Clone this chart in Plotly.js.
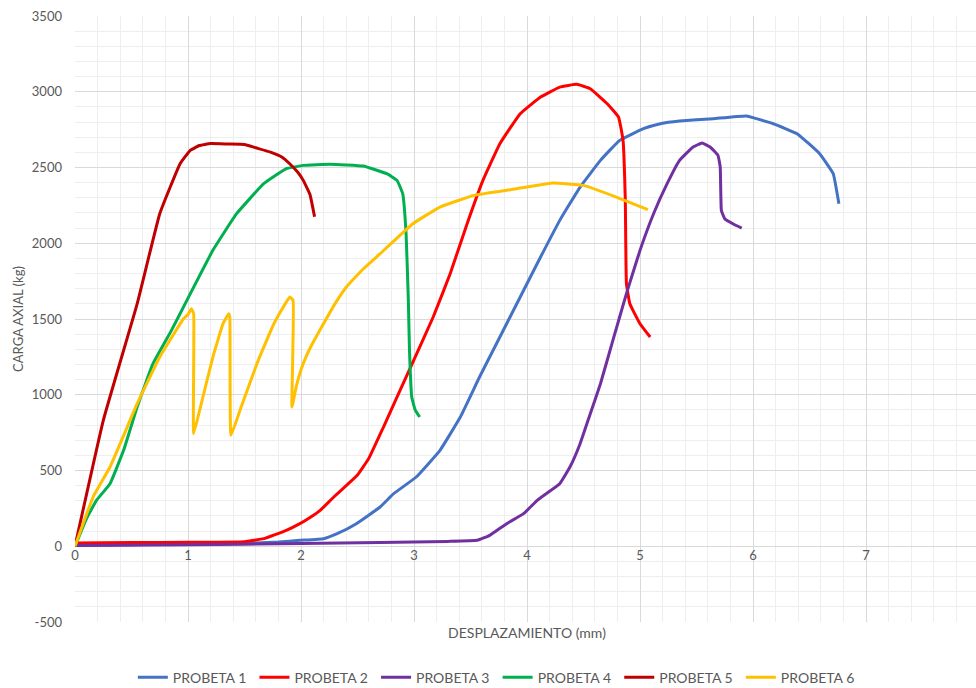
<!DOCTYPE html>
<html>
<head>
<meta charset="utf-8">
<script src="https://cdn.plot.ly/plotly-3.0.1.min.js"></script>
<style>
html,body{margin:0;padding:0;overflow:hidden;background:#fff;}
#chart{width:980px;height:688px;}
</style>
</head>
<body>
<div id="chart"></div>
<script>
// PROBETA 1
const p1x = [0, 0.5, 1.0, 1.5, 1.8, 1.99, 2.2, 2.32, 2.49, 2.7, 2.82, 3.02, 3.23, 3.41, 3.58, 3.76, 3.94, 4.12, 4.29, 4.47, 4.65, 4.82, 5.03, 5.18, 5.35, 5.65, 5.94, 6.18, 6.39, 6.59, 6.71, 6.76];
const p1y = [5, 10, 15, 20, 28, 39, 50, 83, 149, 259, 347, 457, 633, 853, 1117, 1381, 1645, 1909, 2151, 2371, 2547, 2679, 2756, 2789, 2807, 2822, 2840, 2789, 2723, 2591, 2459, 2261];
// PROBETA 2
const p2x = [0, 0.5, 1.0, 1.5, 1.67, 1.87, 1.99, 2.08, 2.17, 2.29, 2.4, 2.5, 2.6, 2.73, 2.97, 3.17, 3.32, 3.47, 3.61, 3.76, 3.94, 4.12, 4.29, 4.44, 4.56, 4.71, 4.81, 4.85, 4.87, 4.88, 4.91, 5.0, 5.09];
const p2y = [22, 24, 26, 30, 50, 105, 149, 190, 237, 325, 400, 470, 580, 787, 1183, 1513, 1799, 2129, 2415, 2657, 2855, 2965, 3031, 3049, 3020, 2921, 2833, 2679, 2283, 1733, 1601, 1469, 1381];
// PROBETA 3
const p3x = [0, 1.0, 2.0, 2.7, 3.3, 3.56, 3.67, 3.82, 3.97, 4.09, 4.17, 4.29, 4.38, 4.47, 4.56, 4.65, 4.76, 4.88, 5.0, 5.12, 5.24, 5.35, 5.47, 5.55, 5.62, 5.69, 5.71, 5.72, 5.75, 5.83, 5.9];
const p3y = [5, 10, 18, 25, 32, 39, 72, 149, 215, 303, 347, 413, 523, 677, 875, 1073, 1359, 1667, 1953, 2195, 2393, 2547, 2635, 2662, 2635, 2580, 2503, 2217, 2162, 2125, 2100];
// PROBETA 4
const p4x = [0, 0.1, 0.19, 0.31, 0.43, 0.55, 0.69, 0.85, 0.99, 1.22, 1.43, 1.67, 1.87, 2.02, 2.26, 2.55, 2.76, 2.85, 2.9, 2.93, 2.95, 2.96, 2.98, 3.01, 3.05];
const p4y = [0, 180, 303, 413, 633, 919, 1205, 1420, 1623, 1953, 2195, 2393, 2492, 2514, 2522, 2510, 2459, 2415, 2327, 2063, 1623, 1293, 985, 900, 853];
// PROBETA 5
const p5x = [0, 0.25, 0.55, 0.75, 0.93, 1.02, 1.1, 1.2, 1.35, 1.5, 1.6, 1.73, 1.83, 1.9, 1.97, 2.02, 2.08, 2.12];
const p5y = [0, 830, 1600, 2195, 2525, 2613, 2645, 2658, 2655, 2652, 2630, 2602, 2570, 2525, 2470, 2415, 2320, 2175];
// PROBETA 6
const p6x = [0, 0.16, 0.31, 0.55, 0.75, 0.96, 1.0, 1.03, 1.05, 1.05, 1.11, 1.22, 1.31, 1.36, 1.37, 1.38, 1.46, 1.61, 1.76, 1.9, 1.93, 1.92, 1.96, 2.0, 2.05, 2.11, 2.2, 2.3, 2.4, 2.55, 2.7, 2.99, 3.23, 3.53, 3.91, 4.23, 4.5, 4.79, 5.07];
const p6y = [0, 325, 523, 941, 1249, 1502, 1530, 1568, 1535, 743, 919, 1249, 1469, 1535, 1513, 732, 897, 1205, 1469, 1645, 1623, 919, 1060, 1165, 1260, 1350, 1470, 1600, 1710, 1830, 1931, 2129, 2239, 2316, 2360, 2397, 2382, 2305, 2222];

const names = ["PROBETA 1", "PROBETA 2", "PROBETA 3", "PROBETA 4", "PROBETA 5", "PROBETA 6"];
const colors = ["#4472C4", "#FF0000", "#7030A0", "#00B050", "#C00000", "#FFC000"];
const xs = [p1x, p2x, p3x, p4x, p5x, p6x];
const ys = [p1y, p2y, p3y, p4y, p5y, p6y];
const xTicks = [0, 1, 2, 3, 4, 5, 6, 7, 8];
const yTicks = [-500, 0, 500, 1000, 1500, 2000, 2500, 3000, 3500];
const yTickText = ["-500", "0", "500", "1000", "1500", "2000", "2500", "3000", "3500"];

const traces = names.map((n, i) => ({
  type: 'scatter', mode: 'lines', name: n,
  x: xs[i], y: ys[i],
  line: {color: colors[i], width: 3, shape: 'spline', smoothing: 0.3},
  hoverinfo: 'skip'
}));

const fam = 'Lato, "Liberation Sans", sans-serif';
const font = {family: fam, size: 12.5, color: '#595959'};
const titleFont = {family: fam, size: 14, color: '#595959'};

const layout = {
  width: 980, height: 688,
  margin: {l: 75, r: 1, t: 16, b: 66},
  paper_bgcolor: '#fff', plot_bgcolor: '#fff',
  font: font,
  showlegend: true,
  legend: {orientation: 'h', xref: 'container', yref: 'container', x: 0.508, xanchor: 'center', y: 0.015, yanchor: 'middle',
           font: {family: fam, size: 14, color: '#595959'}, itemwidth: 30, traceorder: 'normal',
           entrywidth: 76.6, entrywidthmode: 'pixels'},
  xaxis: {
    range: [0, 8], tickvals: xTicks, showticklabels: false,
    showgrid: true, gridcolor: '#d9d9d9', gridwidth: 1,
    zeroline: false, showline: false, ticks: '',
    minor: {dtick: 0.2, showgrid: true, gridcolor: '#eeeeee', gridwidth: 1},
    title: {text: 'DESPLAZAMIENTO (mm)', font: titleFont, standoff: 6}
  },
  xaxis2: {
    overlaying: 'x', matches: 'x', anchor: 'free', position: 0.125,
    range: [0, 8], tickvals: xTicks, showgrid: false, zeroline: false, showline: false, ticks: '',
    tickfont: {family: fam, size: 13, color: '#595959'}
  },
  yaxis: {
    range: [-500, 3500], tickvals: yTicks, ticktext: yTickText,
    showgrid: true, gridcolor: '#d9d9d9', gridwidth: 1,
    zeroline: true, zerolinecolor: '#d9d9d9', zerolinewidth: 1,
    showline: false, ticks: '', ticklabelstandoff: 12,
    tickfont: {family: fam, size: 13, color: '#595959'},
    minor: {dtick: 100, showgrid: true, gridcolor: '#eeeeee', gridwidth: 1},
    title: {text: 'CARGA AXIAL (kg)', font: {family: fam, size: 13, color: '#595959'}, standoff: 5}
  }
};

traces.push({type: 'scatter', mode: 'lines', x: [0], y: [0], xaxis: 'x2', showlegend: false, hoverinfo: 'skip', line: {width: 0}});

Plotly.newPlot('chart', traces, layout, {displayModeBar: false, staticPlot: true});
</script>
</body>
</html>
